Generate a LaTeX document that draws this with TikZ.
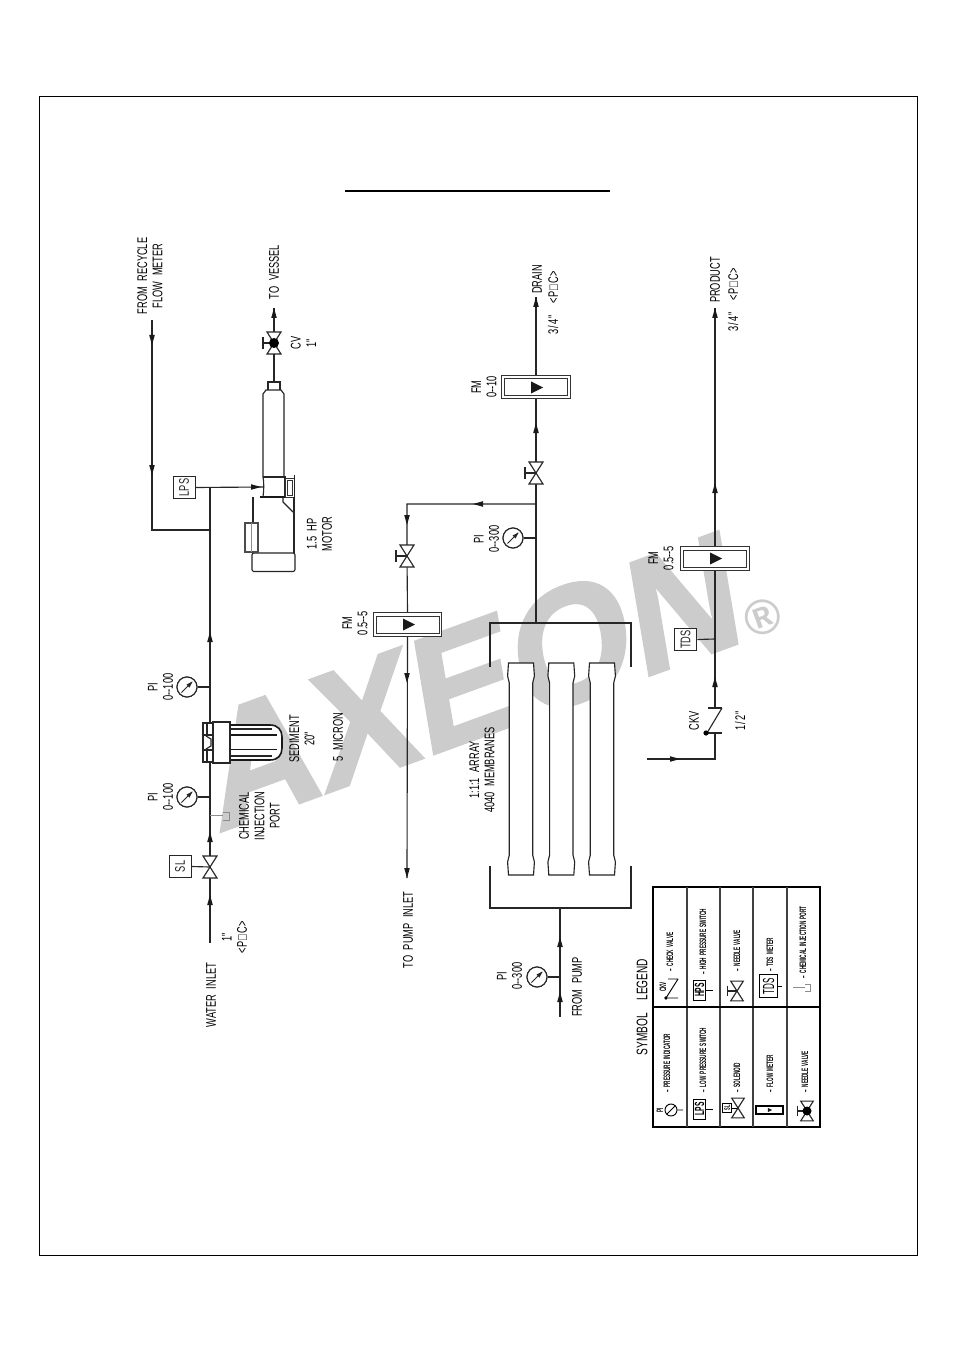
\documentclass[tikz,border=0pt]{standalone}
\usepackage{fontspec}
\newfontfamily\plantfont[FakeStretch=0.66,WordSpace=2.2]{Liberation Sans}
\newfontfamily\legendfont[FakeStretch=0.5,WordSpace=1.8]{Liberation Sans}
\newfontfamily\markfont[FakeBold=1.6,FakeStretch=0.975]{Liberation Sans Bold}
\newfontfamily\regfont{Liberation Sans Bold}
\definecolor{wm}{gray}{0.8}
\newcommand{\poc}{<\kern.6pt P\kern.6pt □\kern.6pt C\kern.6pt >}
\newcommand{\threefour}{3\kern1pt/\kern1pt4\kern1pt"}
\tikzset{
  pipe/.style={line width=0.85pt,black!85},
  fine/.style={line width=0.45pt,black!45},
  lbl/.style={rotate=90,font=\plantfont\fontsize{10.5}{11.5}\selectfont,inner sep=0,align=center},
  leg/.style={rotate=90,font=\legendfont\bfseries\fontsize{7}{7}\selectfont,inner sep=0},
  tag/.style={draw,black!85,line width=0.7pt,fill=white,inner sep=0,font=\plantfont\fontsize{10.5}{11}\selectfont},
  dial/.style={draw,black!85,line width=0.85pt,fill=white,circle,minimum size=15pt,inner sep=0},
  fmbox/.style={draw,black!80,line width=0.8pt,fill=white,minimum width=51.5pt,minimum height=17.5pt,inner sep=0},
  fminner/.pic={\draw[black!80,line width=0.7pt] (-31.5,-8.5) rectangle (31.5,8.5);},
  flowup/.pic={\fill[black!90] (0,-5)--(2.8,5)--(-2.8,5)--cycle;},
  needle/.pic={\draw[line width=0.7pt,black!85] (-5.5,5.5)--(5,-5);\fill[black!85] (5.5,-5.5)--(-0.5,-2.5)--(2.5,0.5)--cycle;},
  bowtie/.pic={\draw[pipe,fill=white] (-7,-11)--(7,-11)--(-7,11)--(7,11)--cycle;},
  handvalve/.pic={\draw[pipe] (0,0)--(-11,0) (-11,-6)--(-11,6);\draw[pipe,fill=white] (-7,-11)--(7,-11)--(-7,11)--(7,11)--cycle;},
  dotvalve/.pic={\draw[pipe] (0,0)--(-11,0) (-11,-6)--(-11,6);\draw[pipe,fill=white] (-7,-11)--(7,-11)--(-7,11)--(7,11)--cycle;\fill[black] (0,0) circle (5);},
  rightmark/.pic={\fill[black!90] (-6,-6)--(6,0)--(-6,6)--cycle;},
  chemport/.pic={\draw[fine] (0,0)--(13,0);\draw[fine] (13,-3)--(19,-3)--(19,5)--(13,5);},
  membrane/.pic={\draw[pipe,fill=white] (-12.5,0)--(12.5,0)--(13.4,13)--(11.7,20)--(11.7,192)--(13.4,199)--(12.5,212)--(-12.5,212)--(-13.4,199)--(-11.7,192)--(-11.7,20)--(-13.4,13)--cycle;},
}
\begin{document}
\begin{tikzpicture}[x=0.75pt,y=-0.75pt]
\useasboundingbox (0,0) rectangle (954,1351);
\fill[white] (0,0) rectangle (954,1351);

% watermark
\begin{scope}[shift={(217,833)},rotate=20,xslant=0.185,transform shape]
\node[anchor=base west,inner sep=0,text=wm,font=\markfont\fontsize{122}{122}\selectfont] (mark) at (0,0) {AXEON};
\end{scope}
\node[rotate=20,inner sep=0,text=wm,font=\regfont\fontsize{37}{37}\selectfont] (regmark) at (763,617) {®};

% frame and title rule
\draw[line width=0.7pt] (39,96) rectangle (917,1255);
\coordinate (ruleA) at (345,191);
\coordinate (ruleB) at (610,191);
\draw[line width=1.5pt] (ruleA)--(ruleB);

% ---- coordinates
\coordinate (inlet) at (210,943);
\coordinate (sv) at (210,867);
\coordinate (tapA) at (210,797);
\coordinate (tapB) at (210,687);
\coordinate (chem) at (210,815);
\coordinate (jrec) at (210,530);
\coordinate (jlps) at (210,487);
\coordinate (rec0) at (152,320);
\coordinate (rec1) at (152,530);
\coordinate (pumpin) at (263,487);
\coordinate (pumpout) at (274,382);
\coordinate (cv) at (274,343);
\coordinate (vessel) at (274,308);
\coordinate (hdr) at (536,623);
\coordinate (tapC) at (536,538);
\coordinate (split) at (536,504);
\coordinate (drainv) at (536,473);
\coordinate (drain) at (536,297);
\coordinate (corner) at (407,504);
\coordinate (recv) at (407,556);
\coordinate (topump) at (407,878);
\coordinate (feed) at (560,908);
\coordinate (tapD) at (560,977);
\coordinate (pump) at (560,1017);
\coordinate (perm0) at (647,759);
\coordinate (perm1) at (715,759);
\coordinate (ck0) at (715,733);
\coordinate (ck1) at (715,708);
\coordinate (tapE) at (715,639);
\coordinate (product) at (715,308);

% ---- instruments as nodes
\node[tag,minimum width=16.5pt,minimum height=16pt] (sl) at (180,866.5) {\rotatebox{90}{SL}};
\node[tag,minimum width=16.5pt,minimum height=16pt] (lps) at (184,487.5) {\rotatebox{90}{LPS}};
\node[tag,minimum width=17pt,minimum height=16pt] (tds) at (685.5,639.5) {\rotatebox{90}{TDS}};
\node[dial] (piA) at (187,797) {};
\node[dial] (piB) at (187,687) {};
\node[dial] (piC) at (513,538) {};
\node[dial] (piD) at (537,977) {};
\node[fmbox] (fmA) at (536,387) {};
\node[fmbox] (fmB) at (407.5,624.5) {};
\node[fmbox] (fmC) at (715,558.5) {};
\pic at (fmA) {fminner};
\pic at (fmB) {fminner};
\pic at (fmC) {fminner};

% ---- pipes
\draw[pipe] (inlet)--(jlps);
\draw[pipe] (sl.east)--(sv);
\draw[pipe] (piA)--(tapA) (piB)--(tapB) (piC)--(tapC) (piD)--(tapD);
\draw[pipe] (rec0)--(rec1)--(jrec);
\draw[pipe] (lps.east)--(pumpin);
\draw[pipe] (pumpout)--(vessel);
\draw[pipe] (hdr)--(split)--(drainv)--(fmA.south);
\draw[pipe] (fmA.north)--(drain);
\draw[pipe] (split)--(corner)--(recv)--(fmB.north);
\draw[pipe] (fmB.south)--(topump);
\draw[pipe] (feed)--(pump);
\draw[pipe] (perm0)--(perm1)--(ck0);
\draw[pipe] (ck1)--(fmC.south);
\draw[pipe] (fmC.north)--(product);
\draw[pipe] (tds.east)--(tapE);

% re-draw dials over their stubs
\node[dial] at (187,797) {};
\node[dial] at (187,687) {};
\node[dial] at (513,538) {};
\node[dial] at (537,977) {};
\foreach \p in {(187,797),(187,687),(513,538),(537,977)} \pic at \p {needle};

% valves
\pic at (sv) {bowtie};
\pic at (cv) {dotvalve};
\pic at (drainv) {handvalve};
\pic at (recv) {handvalve};

% flow arrows
\pic at (210,900) {flowup};
\pic at (210,837) {flowup};
\pic at (210,637) {flowup};
\pic[rotate=180] at (152,340) {flowup};
\pic[rotate=180] at (152,470) {flowup};
\pic[rotate=-90] at (256,487) {flowup};
\pic at (274,313) {flowup};
\pic at (536,428) {flowup};
\pic at (536,302) {flowup};
\pic[rotate=90] at (478,504) {flowup};
\pic[rotate=180] at (407,520) {flowup};
\pic[rotate=180] at (407,678) {flowup};
\pic[rotate=180] at (407,873) {flowup};
\pic at (560,942) {flowup};
\pic at (560,997) {flowup};
\pic[rotate=-90] at (675,759) {flowup};
\pic at (715,682) {flowup};
\pic at (715,488) {flowup};
\pic at (715,313) {flowup};

% flow meter marks
\pic at (537,387.5) {rightmark};
\pic at (409,624.5) {rightmark};
\pic at (716,558.5) {rightmark};

% chemical injection port
\pic at (chem) {chemport};

% check valve
\draw[pipe] (708,733)--(722,733) (708,708)--(722,708);
\draw[pipe] (722,708)--(707,733);
\fill[black] (706,733) circle (2.6);

% sediment filter
\draw[line width=1.2pt,black!90,fill=white] (230,725)--(270,725) .. controls (278,725) and (282,730) .. (282,737)--(282,748) .. controls (282,755) and (278,760) .. (270,760)--(230,760);
\draw[line width=1.3pt,black!90] (230,735)--(277,735) (230,749.5)--(277,749.5);
\draw[pipe] (230,729)--(272,729) (230,756)--(272,756);
\draw[pipe,fill=white] (213,722) rectangle (230,763);
\draw[pipe,fill=white] (203,723) rectangle (213,762);
\draw[pipe] (203,735)--(213,735) (203,750)--(213,750) (207,723)--(207,735) (207,750)--(207,762);
\draw[pipe] (206,736)--(211,739)--(211,746)--(206,749);

% pump and motor
\draw[pipe] (268,390)--(268,382)--(280,382)--(280,390);
\draw[pipe] (263,477)--(263,394)--(266,390)--(281,390)--(284,394)--(284,477);
\draw[pipe] (263,477)--(285,477)--(285,497);
\draw[pipe] (263,477) .. controls (264,482) and (264,490) .. (263,497);
\draw[line width=1.4pt,black!90] (260,497)--(285,497);
\draw[line width=0.6pt,black!80] (285,478) rectangle (294,497);
\draw[line width=0.6pt,black!80] (287,480) rectangle (292,495);
\draw[line width=1.2pt,black!85] (294.5,475)--(294.5,527);
\draw[pipe] (283,497)--(283,502)--(293,512);
\draw[pipe] (253,497)--(253,553);
\draw[pipe] (294,497)--(294,553);
\draw[pipe,rounded corners=1.5pt,fill=white] (252,553)--(295,553)--(295,571.5)--(252,571.5)--cycle;
\draw[line width=1pt,black!70,fill=white] (245,523) rectangle (258,552);
\draw[fine] (251.5,523)--(251.5,552);

% membrane array
\draw[pipe] (490,667)--(490,623)--(631,623)--(631,667);
\draw[pipe] (490,866)--(490,908)--(631,908)--(631,866);
\pic at (521,663) {membrane};
\pic at (561.3,663) {membrane};
\pic at (602,663) {membrane};

% ---- labels
\node[lbl] (t1) at (150,276) {FROM RECYCLE\\FLOW METER};
\node[lbl] (t2) at (274,272) {TO VESSEL};
\node[lbl] (t3) at (303.5,343) {CV\\1"};
\node[lbl] (t4) at (319.5,534) {1.5 HP\\MOTOR};
\node[lbl] (t5) at (160.5,687) {PI\\0--100};
\node[lbl] (t6) at (160.5,797) {PI\\0--100};
\node[lbl] (t7) at (302,739) {SEDIMENT\\20"};
\node[lbl] (t8) at (338,737) {5 MICRON};
\node[lbl] (t9) at (259.5,816) {CHEMICAL\\INJECTION\\PORT};
\node[lbl] (t10) at (234.5,937) {1"\\\poc};
\node[lbl] (t11) at (211,995) {WATER INLET};
\node[lbl] (t12) at (408,930) {TO PUMP INLET};
\node[lbl] (t13) at (355,623) {FM\\0.5--5};
\node[lbl] (t14) at (484,387) {FM\\0--10};
\node[lbl] (t15) at (486.5,539) {PI\\0--300};
\node[lbl] (t16) at (537,279.5) {DRAIN};
\node[lbl] (t17) at (553,303) {\threefour\ \ \poc};
\node[lbl] (t18) at (482,770) {1:1:1 ARRAY\\4040 MEMBRANES};
\node[lbl] (t19) at (694,721) {CKV};
\node[lbl] (t20) at (740,721) {1\kern1pt/\kern1pt2\kern.5pt"};
\node[lbl] (t21) at (661,558) {FM\\0.5--5};
\node[lbl] (t22) at (715,280) {PRODUCT};
\node[lbl] (t23) at (733,300) {\threefour\ \ \poc};
\node[lbl] (t24) at (509.5,976) {PI\\0--300};
\node[lbl] (t25) at (577,987) {FROM PUMP};

% ---- legend
\node[lbl,font=\plantfont\fontsize{11.5}{12}\selectfont] (legT) at (642,1007) {SYMBOL\ \ LEGEND};
\draw[line width=0.8pt] (653,887) rectangle (820,1127);
\draw[line width=0.8pt,black!75] (687,887)--(687,1127) (720,887)--(720,1127) (753,887)--(753,1127) (787,887)--(787,1127);
\draw[line width=0.8pt] (653,1007)--(820,1007);

\node[leg,anchor=west] (l1) at (667,1093) {-- PRESSURE INDICATOR};
\node[leg,anchor=west] (l2) at (703,1093) {-- LOW PRESSURE SWITCH};
\node[leg,anchor=west] (l3) at (737,1093) {-- SOLENOID};
\node[leg,anchor=west] (l4) at (770,1093) {-- FLOW METER};
\node[leg,anchor=west] (l5) at (805,1093) {-- NEEDLE VALVE};
\node[leg,anchor=west] (l6) at (670,972) {-- CHECK VALVE};
\node[leg,anchor=west] (l7) at (703,975) {-- HIGH PRESSURE SWITCH};
\node[leg,anchor=west] (l8) at (737,972) {-- NEEDLE VALVE};
\node[leg,anchor=west] (l9) at (770,972) {-- TDS METER};
\node[leg,anchor=west] (l10) at (803,979) {-- CHEMICAL INJECTION PORT};

% legend symbols
\node[draw,circle,minimum size=9pt,inner sep=0,line width=0.7pt] (lgPI) at (671,1110) {};
\coordinate (lgPIb) at (683,1110);
\draw[line width=0.7pt] (lgPI)--(lgPIb) (667,1114)--(675,1106);
\node[leg,font=\legendfont\bfseries\fontsize{7}{7}\selectfont] (lgPIt) at (660,1110) {PI};

\node[draw,line width=0.7pt,inner sep=0,minimum width=9.5pt,minimum height=15pt,font=\legendfont\bfseries\fontsize{10}{10}\selectfont] (lgLPS) at (699.5,1109) {\rotatebox{90}{LPS}};
\coordinate (lgLPSb) at (713,1109);
\draw[line width=0.7pt] (lgLPS.east)--(lgLPSb);

\node[draw,line width=0.7pt,inner sep=0,minimum width=6.5pt,minimum height=6.5pt,font=\legendfont\bfseries\fontsize{6}{6}\selectfont] (lgSL) at (727,1108) {\rotatebox{90}{SL}};
\coordinate (lgSLv) at (738,1108);
\draw[line width=0.7pt] (lgSL.east)--(lgSLv);
\pic[scale=0.9] at (738,1108) {bowtie};

\node[draw,line width=1.1pt,fill=white,inner sep=0,minimum width=20pt,minimum height=6pt] (lgFM) at (769.5,1110) {};
\pic[scale=0.35] at (770,1110) {rightmark};

\pic[scale=0.9] at (807,1111) {dotvalve};

\node[leg,font=\legendfont\bfseries\fontsize{7}{7}\selectfont] (lgCK) at (663,987) {CKV};
\coordinate (lgCKa) at (678,979);
\coordinate (lgCKb) at (666,998);
\draw[line width=0.7pt] (lgCKa)--(lgCKb) (668,979)--(678,979) (668,998)--(678,998);
\fill (666,998) circle (1.8);

\node[draw,line width=0.7pt,inner sep=0,minimum width=9.5pt,minimum height=15pt,font=\legendfont\bfseries\fontsize{10}{10}\selectfont] (lgHPS) at (699.5,990) {\rotatebox{90}{HPS}};
\coordinate (lgHPSb) at (713,990);
\draw[line width=0.7pt] (lgHPS.east)--(lgHPSb);

\pic[scale=0.9] at (737,991) {handvalve};

\node[draw,line width=0.7pt,inner sep=0,minimum width=14pt,minimum height=17pt,font=\legendfont\fontsize{12}{12}\selectfont] (lgTDS) at (768.5,986) {\rotatebox{90}{TDS}};
\coordinate (lgTDSb) at (782,986);
\draw[line width=0.7pt] (lgTDS.east)--(lgTDSb);

\pic[scale=0.9] at (793,987) {chemport};
\end{tikzpicture}
\end{document}
